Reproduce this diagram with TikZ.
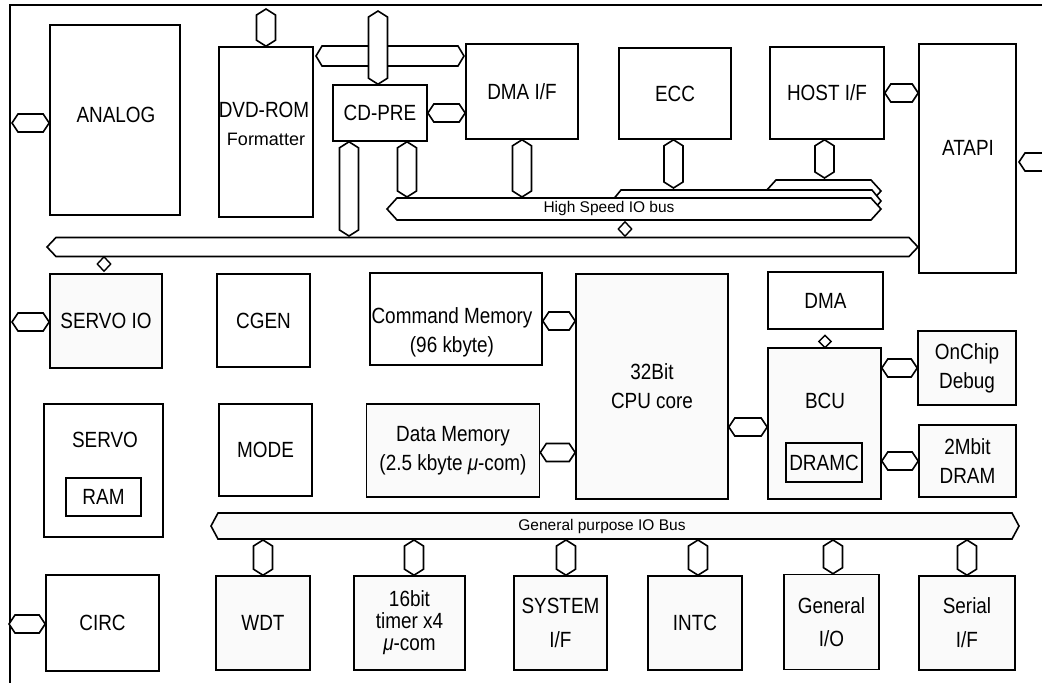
\documentclass[tikz,border=0pt]{standalone}
\usepackage{fontspec}
\setmainfont{Liberation Sans}
\newfontfamily\narrowsf[FakeStretch=0.86]{Liberation Sans}
\usetikzlibrary{calc,shapes.geometric}

\newcommand{\bigsf}{\narrowsf\fontsize{22}{29}\selectfont}
\newcommand{\smallsf}{\fontsize{15.5}{18}\selectfont}
\newcommand{\midsf}{\fontsize{18}{20}\selectfont}

\tikzset{
  box/.style={draw, line width=1.6pt, fill=white, inner sep=0pt, align=center, font=\bigsf},
  gbox/.style={box, fill=gray!4},
  lbl/.style={inner sep=0pt, align=center, font=\bigsf},
  % hexagon bus, left tip to right tip: #1 half height, #2 tip depth
  hbus/.style 2 args={draw, line width=1.6pt, fill=white,
    to path={let \p1=(\tikztostart), \p2=(\tikztotarget) in
      (\x1,\y1) -- (\x1+#2,\y1+#1) -- (\x2-#2,\y1+#1) -- (\x2,\y1)
      -- (\x2-#2,\y1-#1) -- (\x1+#2,\y1-#1) -- cycle}},
  % hexagon bus, top tip to bottom tip: #1 half width, #2 tip depth
  vbus/.style 2 args={draw, line width=1.6pt, fill=white,
    to path={let \p1=(\tikztostart), \p2=(\tikztotarget) in
      (\x1,\y1) -- (\x1+#1,\y1-#2) -- (\x1+#1,\y2+#2) -- (\x1,\y2)
      -- (\x1-#1,\y2+#2) -- (\x1-#1,\y1-#2) -- cycle}},
  hconn/.style={hbus={9pt}{6pt}},
  vconn/.style={vbus={9.5pt}{6pt}},
  tap/.style={diamond, draw, line width=1.4pt, fill=white, inner sep=0pt,
    minimum width=14pt, minimum height=15pt},
}

\begin{document}
\begin{tikzpicture}[x=1pt, y=-1pt]
  \useasboundingbox (0,0) rectangle (1042,683);
  \clip (0,0) rectangle (1042,683);

  % chip outline
  \draw[line width=1.4pt] (10,700) -- (10,5) -- (1060,5);

  % top row
  \node[box, minimum width=130pt, minimum height=190pt] (analog) at (115,120) {};
  \node[lbl] (analog-t) at (116,115) {ANALOG};
  \node[box, minimum width=94pt, minimum height=170pt] (dvdrom) at (266,132) {};
  \node[lbl] (dvdrom-t) at (264,110) {DVD-ROM};
  \node[lbl, font=\midsf] (dvdrom-f) at (266,139) {Formatter};
  \node[box, minimum width=94pt, minimum height=56pt] (cdpre) at (380,113) {CD-PRE};
  \node[box, minimum width=112pt, minimum height=95pt] (dmaif) at (522,91.5) {DMA I/F};
  \node[box, minimum width=112pt, minimum height=91pt] (ecc) at (675,93.5) {ECC};
  \node[box, minimum width=114pt, minimum height=92pt] (hostif) at (827,93) {HOST I/F};
  \node[box, minimum width=97pt, minimum height=229pt] (atapi) at (967.5,158.5) {};
  \node[lbl] (atapi-t) at (968,148) {ATAPI};

  % middle
  \node[gbox, minimum width=112pt, minimum height=94pt] (servoio) at (106,321) {SERVO IO};
  \node[box, minimum width=93pt, minimum height=93pt] (cgen) at (263.5,320.5) {CGEN};
  \node[box, minimum width=172pt, minimum height=92pt] (cmdmem) at (456,319) {};
  \node[lbl] (cmdmem-t) at (452,332) {Command Memory\\(96 kbyte)};
  \node[gbox, minimum width=152pt, minimum height=225pt] (cpu) at (652,386.5) {32Bit\\CPU core};
  \node[box, minimum width=115pt, minimum height=57pt] (dma) at (825.5,300.5) {DMA};
  \node[gbox, minimum width=113pt, minimum height=151pt] (bcu) at (824.5,423.5) {};
  \node[lbl] (bcu-t) at (825,401) {BCU};
  \node[gbox, minimum width=76pt, minimum height=39pt] (dramc) at (824,462.5) {DRAMC};
  \node[gbox, minimum width=98pt, minimum height=74pt] (onchip) at (967,368) {OnChip\\Debug};
  \node[gbox, minimum width=97pt, minimum height=72pt] (dram) at (967.5,461) {2Mbit\\DRAM};
  \node[box, minimum width=119pt, minimum height=133pt] (servo) at (103.5,470.5) {};
  \node[lbl] (servo-t) at (105,440) {SERVO};
  \node[box, minimum width=75pt, minimum height=38pt] (ram) at (103.5,497) {RAM};
  \node[box, minimum width=93pt, minimum height=92pt] (mode) at (265.5,450) {MODE};
  \node[gbox, minimum width=173pt, minimum height=93pt] (datamem) at (453,450.5)
    {Data Memory\\(2.5 kbyte {\itshape μ}-com)};

  % bottom row
  \node[box, minimum width=113pt, minimum height=96pt] (circ) at (102.5,623) {CIRC};
  \node[gbox, minimum width=94pt, minimum height=94pt] (wdt) at (263,623) {WDT};
  \node[gbox, minimum width=111pt, minimum height=94pt] (timer) at (409.5,623)
    {16bit\\[-7pt]timer x4\\[-7pt]{\itshape μ}-com};
  \node[gbox, minimum width=93pt, minimum height=94pt] (sysif) at (560.5,623) {SYSTEM\\[5pt]I/F};
  \node[gbox, minimum width=94pt, minimum height=94pt] (intc) at (695,623) {INTC};
  \node[gbox, minimum width=95pt, minimum height=95pt] (gio) at (831.5,622) {General\\[4pt]I/O};
  \node[gbox, minimum width=96pt, minimum height=94pt] (serial) at (967,623) {Serial\\[5pt]I/F};

  % bus end points
  \coordinate (topL) at (316,56);  \coordinate (topR) at (464,56);
  \coordinate (hs3L) at (766,191); \coordinate (hs3R) at (881,191);
  \coordinate (hs2L) at (612,201); \coordinate (hs2R) at (881,201);
  \coordinate (hsL) at (387,209);  \coordinate (hsR) at (881,209);
  \coordinate (lbL) at (47,247);   \coordinate (lbR) at (918,247);
  \coordinate (gpL) at (211,526);  \coordinate (gpR) at (1019,526);
  % bus edges
  \coordinate (hs3T) at (0,178);
  \coordinate (hs2T) at (0,188);
  \coordinate (hsT) at (0,197);
  \coordinate (lbT) at (0,236);
  \coordinate (gpB) at (0,540);
  % free pins
  \coordinate (pinA) at (12,123);
  \coordinate (pinD) at (266,9);
  \coordinate (pinC) at (378,11);
  \coordinate (pinT) at (1019,162); \coordinate (pinT2) at (1062,162);
  \coordinate (pinS) at (12,322);
  \coordinate (pinR) at (9,624);

  % buses
  \draw[hbus={10pt}{6pt}] (topL) to (topR);
  \draw[hbus={9.5pt}{9pt}] (lbL) to (lbR);
  \draw[hbus={11pt}{10pt}] (hs3L) to (hs3R);
  \draw[hbus={11pt}{9pt}] (hs2L) to (hs2R);
  \draw[hbus={11pt}{10pt}] (hsL) to (hsR);
  \node[inner sep=0pt, font=\smallsf] (hs-t) at (609,208) {High Speed IO bus};
  \draw[hbus={13pt}{7pt}, fill=gray!4] (gpL) to (gpR);
  \node[inner sep=0pt, font=\smallsf] (gp-t) at (602,526) {General purpose IO Bus};

  % taps
  \node[tap] (tap-servo) at (104,264) {};
  \node[tap] (tap-hs) at (625,229) {};
  \node[tap, minimum height=13pt, minimum width=13pt] (tap-dma) at (825,341.5) {};

  % vertical connectors
  \draw[vconn] (pinD) to (pinD |- dvdrom.north);
  \draw[vconn] (pinC) to (pinC |- cdpre.north);
  \draw[vconn] ([xshift=-31pt]cdpre.south) to ([xshift=-31pt]cdpre.south |- lbT);
  \draw[vconn] ([xshift=27pt]cdpre.south) to ([xshift=27pt]cdpre.south |- hsT);
  \draw[vconn] (dmaif.south) to (dmaif.south |- hsT);
  \draw[vconn] ([xshift=-1.5pt]ecc.south) to ([xshift=-1.5pt]ecc.south |- hs2T);
  \draw[vconn] ([xshift=-2.5pt]hostif.south) to ([xshift=-2.5pt]hostif.south |- hs3T);
  \draw[vconn] (wdt.north |- gpB) to (wdt.north);
  \draw[vconn] ([xshift=4.5pt]timer.north |- gpB) to ([xshift=4.5pt]timer.north);
  \draw[vconn] ([xshift=5.5pt]sysif.north |- gpB) to ([xshift=5.5pt]sysif.north);
  \draw[vconn] ([xshift=3pt]intc.north |- gpB) to ([xshift=3pt]intc.north);
  \draw[vconn] ([xshift=1.5pt]gio.north |- gpB) to ([xshift=1.5pt]gio.north);
  \draw[vconn] (serial.north |- gpB) to (serial.north);

  % horizontal connectors
  \draw[hconn] (pinA) to (analog.west |- pinA);
  \draw[hconn] (cdpre.east) to (dmaif.west |- cdpre.east);
  \draw[hconn] (hostif.east) to (atapi.west |- hostif.east);
  \draw[hconn] (pinT) to (pinT2);
  \draw[hconn] (pinS) to (servoio.west |- pinS);
  \draw[hconn] ([yshift=-2pt]cmdmem.east) to ([yshift=-2pt]cpu.west |- cmdmem.east);
  \draw[hconn] ([yshift=-2pt]datamem.east) to ([yshift=-2pt]cpu.west |- datamem.east);
  \draw[hconn] ([yshift=-3.5pt]cpu.east |- bcu.west) to ([yshift=-3.5pt]bcu.west);
  \draw[hconn] (bcu.east |- onchip.west) to (onchip.west);
  \draw[hconn] (bcu.east |- dram.west) to (dram.west);
  \draw[hconn] (pinR) to (circ.west |- pinR);
\end{tikzpicture}
\end{document}
